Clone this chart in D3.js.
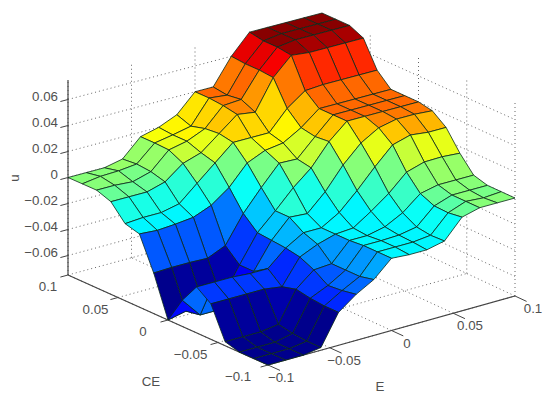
<!DOCTYPE html>
<html>
<head>
<meta charset="utf-8">
<script src="https://cdn.jsdelivr.net/npm/d3@7"></script>
<style>
body { margin: 0; background: #fff; }
text { font-family: "Liberation Sans", Arial, sans-serif; font-size: 13.3px; fill: #505050; }
</style>
</head>
<body>
<div id="dataviz"></div>
<script>
//grid of the surface, 15 x 15
var eGrid = [-0.1,-0.0857,-0.0714,-0.0571,-0.0429,-0.0286,-0.0143,0,0.0143,0.0286,0.0429,0.0571,0.0714,0.0857,0.1];
var ceGrid = [-0.1,-0.0857,-0.0714,-0.0571,-0.0429,-0.0286,-0.0143,0,0.0143,0.0286,0.0429,0.0571,0.0714,0.0857,0.1];

//u values, one list per CE row, E goes left to right
var uCe00 = [-.075,-.075,-.075,-.073,-.05,-.04,-.0325,-.02,-.021,-.021,-.018,-.0035,0,0,0];
var uCe01 = [-.075,-.075,-.075,-.073,-.05,-.042,-.035,-.02,-.02,-.02,-.0185,-.005,0,-.001,0];
var uCe02 = [-.075,-.075,-.075,-.072,-.049,-.043,-.035,-.02,-.02,-.0195,-.017,-.0046,0,0,0];
var uCe03 = [-.072,-.072,-.072,-.07,-.047,-.036,-.035,-.021,-.021,-.018,-.011,0,.003,.003,.003];
var uCe04 = [-.048,-.048,-.048,-.048,-.05,-.031,-.025,-.021,-.02,-.011,-.001,.0116,.0157,.016,.015];
var uCe05 = [-.04,-.04,-.04,-.041,-.041,-.029,-.021,-.021,-.013,0,.0145,.0277,.0316,.03,.03];
var uCe06 = [-.055,-.07,-.07,-.058,-.048,-.028,-.014,-.015,-.002,.0148,.028,.036,.039,.039,.038];
var uCe07 = [-.075,-.072,-.072,-.07,-.048,-.027,-.014,0,.0115,.028,.04,.04,.04,.04,.04];
var uCe08 = [-.044,-.0435,-.0435,-.044,-.038,-.0172,-.001,.014,.0135,.027,.04,.04,.04,.04,.04];
var uCe09 = [-.019,-.02,-.019,-.0175,-.012,-.002,.013,.019,.021,.029,.04,.04,.04,.04,.04];
var uCe10 = [-.016,-.015,-.015,-.012,0,.012,.024,.024,.024,.039,.049,.05,.05,.05,.05];
var uCe11 = [-.004,-.004,-.004,0,.0105,.015,.026,.037,.035,.058,.0715,.07,.07,.07,.07];
var uCe12 = [0,0,-.001,.003,.016,.019,.025,.039,.04,.059,.073,.075,.075,.075,.075];
var uCe13 = [0,.002,.0025,.004,.0165,.019,.022,.04,.0385,.059,.073,.075,.075,.075,.075];
var uCe14 = [0,0,0,.003,.0165,.02,.026,.04,.04,.06,.075,.075,.075,.075,.075];
var uRows = [uCe00,uCe01,uCe02,uCe03,uCe04,uCe05,uCe06,uCe07,uCe08,uCe09,uCe10,uCe11,uCe12,uCe13,uCe14];

var eTicks = [-0.1,-0.05,0,0.05,0.1];
var ceTicks = [-0.1,-0.05,0,0.05,0.1];
var uTicks = [-0.06,-0.04,-0.02,0,0.02,0.04,0.06];

//scales to the unit box
var eScale = d3.scaleLinear().domain([-0.1,0.1]).range([0,1]);
var ceScale = d3.scaleLinear().domain([-0.1,0.1]).range([0,1]);
var uScale = d3.scaleLinear().domain([-0.075,0.075]).range([0,1]);

//screen position of the box corners, named by E, CE, u (m = low, p = high)
var box = {
    mmm:[268,365], pmm:[515,296], ppm:[322,206], mpm:[68,275],
    mmp:[268,167], pmp:[515,100], ppp:[322,13], mpp:[68,80]
};

//the camera has some perspective so blend the eight corners
var project = function(e,ce,u){
    var a = eScale(e), b = ceScale(ce), c = uScale(u);
    return [0,1].map(function(k){
        var low = (1-a)*(1-b)*box.mmm[k] + a*(1-b)*box.pmm[k] + a*b*box.ppm[k] + (1-a)*b*box.mpm[k];
        var high = (1-a)*(1-b)*box.mmp[k] + a*(1-b)*box.pmp[k] + a*b*box.ppp[k] + (1-a)*b*box.mpp[k];
        return low*(1-c) + high*c;
    });
};

//jet colormap with 64 levels, like the matlab default
var jetRamp = d3.scaleLinear()
    .domain([0,0.125,0.375,0.625,0.875,1])
    .range(["#000084","#0000ff","#00ffff","#ffff00","#ff0000","#800000"]);
var jetLevels = d3.range(64).map(function(k){ return jetRamp((k+0.5)/64); });
var jet = d3.scaleQuantize().domain([-0.075,0.075]).range(jetLevels);

var svg = d3.select("#dataviz").append("svg").attr("width",550).attr("height",399);
var path = d3.line();

var gridLine = function(p,q){
    svg.append("path").attr("d",path([p,q]))
        .attr("fill","none").attr("stroke","#666").attr("stroke-width",1).attr("stroke-dasharray","1 3");
};
var axisLine = function(p,q,w){
    svg.append("path").attr("d",path([p,q]))
        .attr("fill","none").attr("stroke","#444").attr("stroke-width",w);
};

//dotted grid on the floor and on the two back walls
eTicks.forEach(function(e){
    gridLine(project(e,-0.1,-0.075),project(e,0.1,-0.075));
    gridLine(project(e,0.1,-0.075),project(e,0.1,0.075));
});
ceTicks.forEach(function(ce){
    gridLine(project(-0.1,ce,-0.075),project(0.1,ce,-0.075));
    gridLine(project(0.1,ce,-0.075),project(0.1,ce,0.075));
});
uTicks.forEach(function(u){
    gridLine(project(-0.1,0.1,u),project(0.1,0.1,u));
    gridLine(project(0.1,0.1,u),project(0.1,-0.1,u));
});

//axis lines
axisLine(project(-0.1,0.1,-0.075),project(-0.1,0.1,0.075),1.2);
axisLine(project(-0.1,0.1,-0.075),project(-0.1,-0.1,-0.075),1.2);
axisLine(project(-0.1,-0.1,-0.075),project(0.1,-0.1,-0.075),1.2);

//tick marks
ceTicks.forEach(function(ce){
    axisLine(project(-0.1,ce,-0.075),project(-0.106,ce,-0.075),1);
});
eTicks.forEach(function(e){
    axisLine(project(e,-0.1,-0.075),project(e,-0.112,-0.075),1);
});
uTicks.forEach(function(u){
    axisLine(project(-0.1,0.1,u),project(-0.106,0.1,u),1);
});

//surface, far cells first
var cells = [];
for(var j=ceGrid.length-2; j>=0; j--){
    for(var i=eGrid.length-2; i>=0; i--){
        cells.push({i:i,j:j});
    }
}
svg.append("g").selectAll("path")
    .data(cells)
    .join("path")
    .attr("d",function(d){
        var i=d.i, j=d.j;
        return path([
            project(eGrid[i],ceGrid[j],uRows[j][i]),
            project(eGrid[i+1],ceGrid[j],uRows[j][i+1]),
            project(eGrid[i+1],ceGrid[j+1],uRows[j+1][i+1]),
            project(eGrid[i],ceGrid[j+1],uRows[j+1][i])
        ])+"Z";
    })
    .attr("fill",function(d){ return jet(uRows[d.j][d.i]); })
    .attr("stroke","#0b2a1a")
    .attr("stroke-width",0.8)
    .attr("stroke-linejoin","round");

//tick labels
var fmt = function(v){ return String(v).replace("-","\u2212"); };
var uLabelY = d3.scaleLinear().domain([-0.06,0.06]).range([255,99]);
svg.selectAll(".ulabel").data(uTicks).join("text")
    .attr("class","ulabel")
    .attr("x",58).attr("y",function(d){ return uLabelY(d)+2; })
    .attr("text-anchor","end")
    .text(fmt);

var ceLabelPos = d3.scaleLinear().domain([-0.1,0.1]).range([238,48]);
var ceLabelY = d3.scaleLinear().domain([-0.1,0.1]).range([381,291]);
svg.selectAll(".celabel").data(ceTicks).join("text")
    .attr("class","celabel")
    .attr("x",ceLabelPos).attr("y",ceLabelY)
    .attr("text-anchor","middle")
    .text(fmt);

var eLabelPos = d3.scaleLinear().domain([-0.1,0.1]).range([281,533]);
var eLabelY = d3.scaleLinear().domain([-0.1,0.1]).range([382,313]);
svg.selectAll(".elabel").data(eTicks).join("text")
    .attr("class","elabel")
    .attr("x",eLabelPos).attr("y",eLabelY)
    .attr("text-anchor","middle")
    .text(fmt);

//axis titles
svg.append("text").attr("x",151).attr("y",386).attr("text-anchor","middle").text("CE");
svg.append("text").attr("x",380).attr("y",391).attr("text-anchor","middle").text("E");
svg.append("text").attr("transform","translate(19,178) rotate(-90)").attr("text-anchor","middle").text("u");
</script>
</body>
</html>
